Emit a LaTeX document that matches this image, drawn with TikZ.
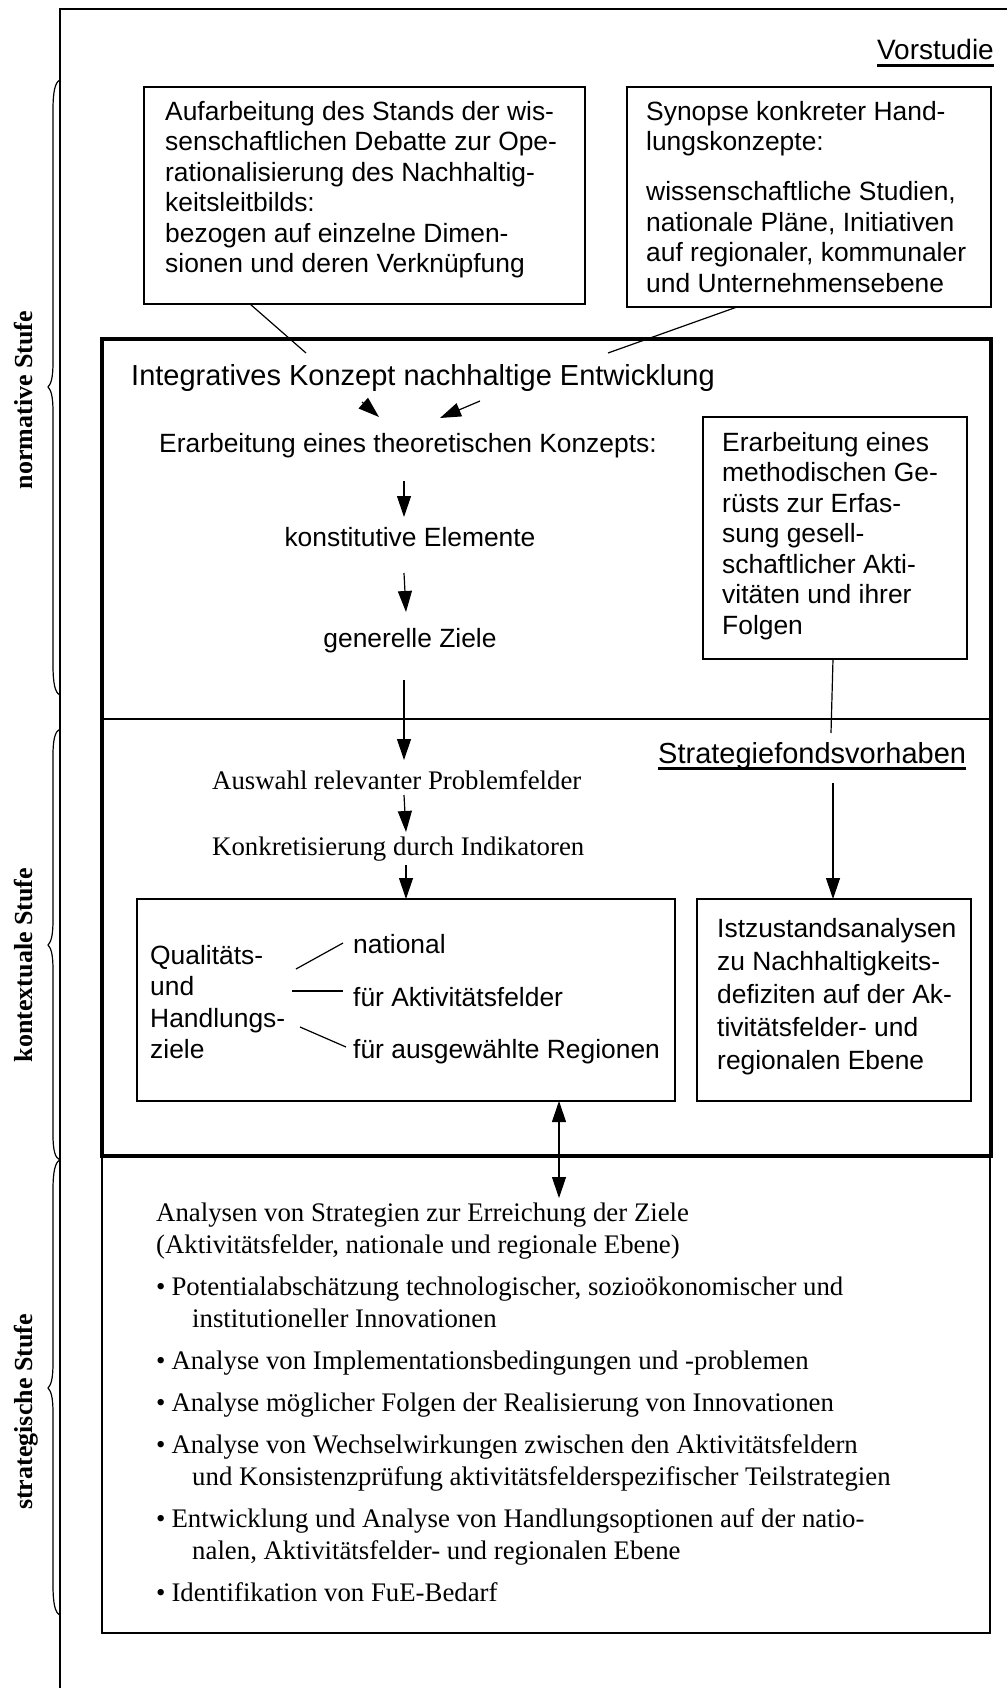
\documentclass[tikz,border=0pt]{standalone}
\usepackage{fontspec}
\setmainfont{Liberation Serif}
\newfontfamily\sansf{Liberation Sans}
\usetikzlibrary{arrows.meta}
\tikzset{
  boxline/.style={draw, line width=1.3pt, rectangle, inner sep=0pt},
  thickframe/.style={draw, line width=3.2pt, rectangle, inner sep=0pt},
  sanstext/.style={font=\sansf\fontsize{26.4}{30.5}\selectfont, inner sep=0pt},
  sanstextb/.style={font=\sansf\fontsize{26.4}{31.5}\selectfont, inner sep=0pt},
  sanstextc/.style={font=\sansf\fontsize{26.4}{33}\selectfont, inner sep=0pt},
  bigsans/.style={font=\sansf\fontsize{29}{33}\selectfont, inner sep=0pt},
  seriftext/.style={font=\fontsize{26.8}{32}\selectfont, inner sep=0pt},
  lab/.style={font=\bfseries\fontsize{26}{30}\selectfont, rotate=90, anchor=base, inner sep=0pt},
  conn/.style={line width=1.2pt},
  arr/.style={line width=1.2pt, -{Triangle[length=21pt,width=14pt]}},
  darr/.style={line width=1.2pt, {Triangle[length=21pt,width=14pt]}-{Triangle[length=21pt,width=14pt]}},
  bracel/.style={line width=1.2pt},
  ul/.style={line width=3pt},
}
\begin{document}
\begin{tikzpicture}[x=1pt,y=-1pt]
\useasboundingbox (0,0) rectangle (1006,1688);

% outer frame (cropped)
\coordinate (ofr) at (1010,9);
\coordinate (oftl) at (60,9);
\coordinate (ofb) at (60,1692);
\draw[line width=1.6pt] (ofr) -- (oftl) -- (ofb);

% braces
\draw[bracel] (60,80) .. controls (55,82) and (53,92) .. (53,110) -- (53,362) .. controls (53,378) and (51,384) .. (48,387) .. controls (51,390) and (53,396) .. (53,412) -- (53,665) .. controls (53,683) and (55,693) .. (60,695);
\draw[bracel] (60,729) .. controls (55,731) and (53,740) .. (53,755) -- (53,920) .. controls (53,936) and (51,942) .. (48,945) .. controls (51,948) and (53,954) .. (53,970) -- (53,1135) .. controls (53,1150) and (55,1158) .. (60,1160);
\draw[bracel] (60,1160) .. controls (55,1162) and (53,1172) .. (53,1190) -- (53,1363) .. controls (53,1379) and (51,1385) .. (48,1388) .. controls (51,1391) and (53,1397) .. (53,1413) -- (53,1585) .. controls (53,1603) and (55,1613) .. (60,1615);

% labels
\node[lab] (lnorm) at (32,400) {normative Stufe};
\node[lab] (lkont) at (32,965) {kontextuale Stufe};
\node[lab] (lstrat) at (32,1412) {strategische Stufe};

% Vorstudie
\node[sanstext, font=\sansf\fontsize{28}{32}\selectfont, anchor=base east] (vor) at (994,60) {Vorstudie};
\draw[ul] ([yshift=-5.5pt]vor.base west) -- ([yshift=-5.5pt]vor.base east);

% top boxes
\node[boxline, minimum width=441pt, minimum height=217pt] (tl) at (364.5,195.5) {};
\node[sanstext, anchor=north west, align=left] (tltext) at (165,98.65) {\strut Aufarbeitung des Stands der wis-\\\strut senschaftlichen Debatte zur Ope-\\\strut rationalisierung des Nachhaltig-\\\strut keitsleitbilds:\\\strut bezogen auf einzelne Dimen-\\\strut sionen und deren Verknüpfung};

\node[boxline, minimum width=364pt, minimum height=220pt] (tr) at (809,197) {};
\node[sanstext, anchor=north west, align=left] (trtext) at (646,98.65) {\strut Synopse konkreter Hand-\\\strut lungskonzepte:\\[19.5pt]\strut wissenschaftliche Studien,\\\strut nationale Pläne, Initiativen\\\strut auf regionaler, kommunaler\\\strut und Unternehmensebene};

% lower (strategic) box and thick frame
\node[boxline, minimum width=888pt, minimum height=477pt] (lower) at (546,1394.5) {};
\node[thickframe, minimum width=889pt, minimum height=817pt] (main) at (546.5,747.5) {};
\coordinate (dvl) at (102,719);
\coordinate (dvr) at (991,719);
\draw[line width=1.4pt] (dvl) -- (dvr);

% title and central chain
\node[bigsans, anchor=base west] (title) at (131,385) {Integratives Konzept nachhaltige Entwicklung};
\node[sanstext, anchor=base] (erarb) at (408,452) {Erarbeitung eines theoretischen Konzepts:};
\node[sanstext, anchor=base] (konst) at (410,546) {konstitutive Elemente};
\node[sanstext, anchor=base] (gen) at (410,647) {generelle Ziele};
\node[seriftext, anchor=base west] (ausw) at (212,789) {Auswahl relevanter Problemfelder};
\node[seriftext, anchor=base west] (konk) at (212,855) {Konkretisierung durch Indikatoren};

% connectors from top boxes
\coordinate (c1a) at (250,304);
\coordinate (c1b) at (306,353);
\coordinate (c1c) at (362,402);
\coordinate (c1d) at (379,417);
\draw[conn] (c1a) -- (c1b);
\draw[arr] (c1c) -- (c1d);
\coordinate (c2a) at (737,307);
\coordinate (c2b) at (608,353);
\coordinate (c2c) at (480,401);
\coordinate (c2d) at (440,418);
\draw[conn] (c2a) -- (c2b);
\draw[arr] (c2c) -- (c2d);

% chain arrows
\coordinate (a1s) at (404,481); \coordinate (a1e) at (404,517);
\coordinate (a2s) at (404,573); \coordinate (a2e) at (406,612);
\coordinate (a3s) at (404,680); \coordinate (a3e) at (404,760);
\coordinate (a4s) at (404,795); \coordinate (a4e) at (406,832);
\coordinate (a5s) at (406,865); \coordinate (a5e) at (406,899);
\draw[arr] (a1s) -- (a1e);
\draw[arr] (a2s) -- (a2e);
\draw[arr] (a3s) -- (a3e);
\draw[arr] (a4s) -- (a4e);
\draw[arr] (a5s) -- (a5e);

% methodical box
\node[boxline, minimum width=264pt, minimum height=242pt] (meth) at (835,538) {};
\node[sanstext, anchor=north west, align=left] (methtext) at (722,429.65) {\strut Erarbeitung eines\\\strut methodischen Ge-\\\strut rüsts zur Erfas-\\\strut sung gesell-\\\strut schaftlicher Akti-\\\strut vitäten und ihrer\\\strut Folgen};
\coordinate (m1s) at (833,659); \coordinate (m1e) at (831,733);
\draw[conn] (m1s) -- (m1e);

% Strategiefondsvorhaben
\node[bigsans, anchor=base west] (sfv) at (658,763) {Strategiefondsvorhaben};
\draw[ul] ([yshift=-5.5pt]sfv.base west) -- ([yshift=-5.5pt]sfv.base east);
\coordinate (f1s) at (833,783); \coordinate (f1e) at (833,899);
\draw[arr] (f1s) -- (f1e);

% Qualitaets box
\node[boxline, minimum width=538pt, minimum height=202pt] (qual) at (406,1000) {};
\node[sanstextb, anchor=north west, align=left] (qtext) at (150,941.95) {\strut Qualitäts-\\\strut und\\\strut Handlungs-\\\strut ziele};
\node[sanstext, anchor=base west] (qnat) at (353,953) {national};
\node[sanstext, anchor=base west] (qakt) at (353,1006) {für Aktivitätsfelder};
\node[sanstext, anchor=base west] (qreg) at (353,1058) {für ausgewählte Regionen};
\coordinate (q1a) at (296,969); \coordinate (q1b) at (343,943);
\coordinate (q2a) at (292,991); \coordinate (q2b) at (343,991);
\coordinate (q3a) at (300,1027); \coordinate (q3b) at (346,1047);
\draw[conn] (q1a) -- (q1b);
\draw[conn] (q2a) -- (q2b);
\draw[conn] (q3a) -- (q3b);

% Istzustand box
\node[boxline, minimum width=274pt, minimum height=202pt] (ist) at (834,1000) {};
\node[sanstextc, anchor=north west, align=left] (isttext) at (717,913.9) {\strut Istzustandsanalysen\\\strut zu Nachhaltigkeits-\\\strut defiziten auf der Ak-\\\strut tivitätsfelder- und\\\strut regionalen Ebene};

% double arrow
\coordinate (d1s) at (559,1101); \coordinate (d1e) at (559,1198);
\draw[darr] (d1s) -- (d1e);

% strategic text
\node[seriftext, anchor=north west, align=left] (ltext) at (156,1198.6) {\strut Analysen von Strategien zur Erreichung der Ziele\\
\strut (Aktivitätsfelder, nationale und regionale Ebene)\\[10pt]
\strut\textbullet\hspace{6pt}Potentialabschätzung technologischer, sozioökonomischer und\\
\strut\hspace*{36pt}institutioneller Innovationen\\[10pt]
\strut\textbullet\hspace{6pt}Analyse von Implementationsbedingungen und -problemen\\[10pt]
\strut\textbullet\hspace{6pt}Analyse möglicher Folgen der Realisierung von Innovationen\\[10pt]
\strut\textbullet\hspace{6pt}Analyse von Wechselwirkungen zwischen den Aktivitätsfeldern\\
\strut\hspace*{36pt}und Konsistenzprüfung aktivitätsfelderspezifischer Teilstrategien\\[10pt]
\strut\textbullet\hspace{6pt}Entwicklung und Analyse von Handlungsoptionen auf der natio-\\
\strut\hspace*{36pt}nalen, Aktivitätsfelder- und regionalen Ebene\\[10pt]
\strut\textbullet\hspace{6pt}Identifikation von FuE-Bedarf};
\end{tikzpicture}
\end{document}
